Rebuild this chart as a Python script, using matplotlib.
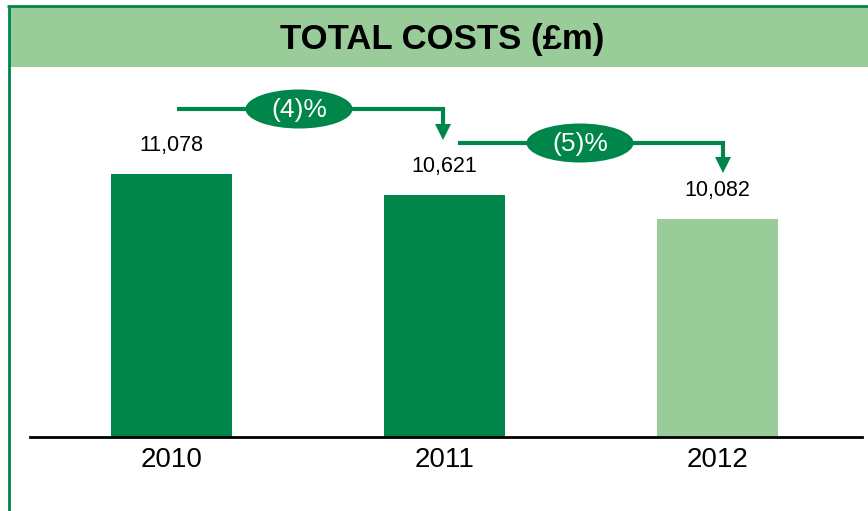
import matplotlib
matplotlib.use('Agg')
import matplotlib.pyplot as plt
from matplotlib.patches import Ellipse, Rectangle

# data
years = ['2010', '2011', '2012']
costs = [11078, 10621, 10082]
bar_colors = ['#00854a', '#00854a', '#99cc99']
title = 'TOTAL COSTS (£m)'

DARK = '#00854a'
LIGHT = '#99cc99'
W, H = 868, 511

plt.rcParams['font.family'] = ['Liberation Sans', 'DejaVu Sans']

fig = plt.figure(figsize=(W / 100, H / 100), dpi=100)

# overlay in pixel coords (y down) for frame, header and arrows
ov = fig.add_axes([0, 0, 1, 1])
ov.set_xlim(0, W)
ov.set_ylim(H, 0)
ov.axis('off')
ov.add_patch(Rectangle((9, 7), W - 9, 60, color=LIGHT, lw=0))
ov.plot([7, W], [6, 6], color=DARK, lw=2, solid_capstyle='butt')
ov.plot([8.5, 8.5], [6, H], color=DARK, lw=2, solid_capstyle='butt')
ov.text(442, 40, title, ha='center', va='center', fontsize=25, fontweight='bold',
        family=['Liberation Sans Narrow', 'Liberation Sans', 'DejaVu Sans'])

# bar axes: baseline at y=437, spans x 30..862
left, right, base, top = 30, 862, 437, 68
ax = fig.add_axes([left / W, (H - base) / H, (right - left) / W, (base - top) / H])
ax.patch.set_alpha(0)
x = list(range(len(years)))
ax.bar(x, costs, width=0.443, color=bar_colors, zorder=1)
ax.set_xlim(-0.518, 2.529)
ax.set_ylim(5300, 13400)
for s in ['top', 'right', 'left']:
    ax.spines[s].set_visible(False)
ax.spines['bottom'].set_color('black')
ax.spines['bottom'].set_linewidth(2)
ax.spines['bottom'].set_zorder(3)
ax.set_yticks([])
ax.set_xticks(x)
ax.set_xticklabels(years, fontsize=20)
ax.tick_params(axis='x', length=0, pad=7)

for xi, v in zip(x, costs):
    ax.annotate(f'{v:,}', (xi, v), xytext=(0, 13), textcoords='offset points',
                ha='center', va='bottom', fontsize=15.5)

# change arrows between bars (pixel coords)
arrows = [
    # x0, x1, y, tip_y, ellipse centre x
    (177, 443, 109, 140, 299),
    (458, 723, 143, 173, 580),
]
for i, (x0, x1, y, tip, ex) in enumerate(arrows):
    pct = round((costs[i + 1] - costs[i]) / costs[i] * 100)
    label = f'({abs(pct)})%' if pct < 0 else f'{pct}%'
    ov.plot([x0, x1, x1], [y, y, tip - 14], color=DARK, lw=3,
            solid_joinstyle='miter', solid_capstyle='butt')
    ov.fill([x1 - 8, x1 + 8, x1], [tip - 16, tip - 16, tip], color=DARK, lw=0)
    ov.add_patch(Ellipse((ex, y), 107, 39, color=DARK, lw=0))
    ov.text(ex, y + 1, label, ha='center', va='center', color='white', fontsize=19)

fig.savefig('out.png', dpi=100)
